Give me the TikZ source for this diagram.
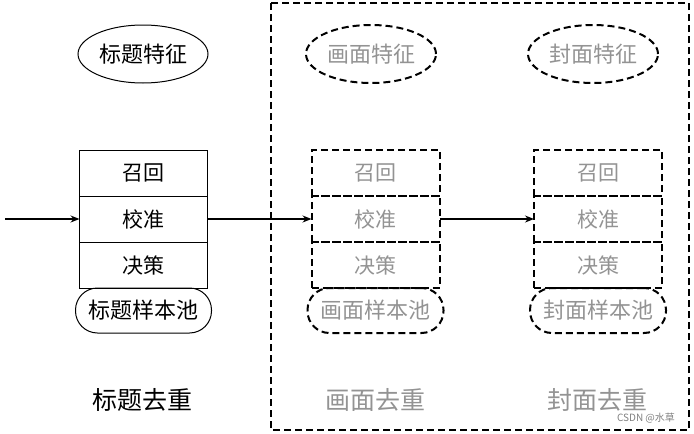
\documentclass[tikz,border=0pt]{standalone}
\usepackage{fontspec}
\setmainfont{Noto Sans CJK SC}
\usetikzlibrary{arrows.meta, positioning, shapes.geometric}
\tikzstyle{arrow} = [line width=1.4pt, -{Stealth[length=9pt,width=7pt]}]

\begin{document}
\begin{tikzpicture}[x=1pt, y=-1pt,
    feat/.style={ellipse, draw=black, line width=1pt, minimum width=130pt, minimum height=58pt, inner sep=0pt, font=\fontsize{22}{24}\selectfont},
    cell/.style={rectangle, draw=black, line width=1pt, minimum width=128pt, minimum height=46pt, inner sep=0pt, outer sep=0pt, font=\fontsize{21}{24}\selectfont},
    pool/.style={rectangle, rounded corners=22pt, draw=black, line width=1pt, minimum width=136pt, minimum height=45pt, inner sep=0pt, outer sep=0pt, font=\fontsize{22}{24}\selectfont},
    ghost/.style={dash pattern=on 7pt off 4pt, line width=2pt, text=gray!85},
    title/.style={font=\fontsize{25}{28}\selectfont},
]
\useasboundingbox (0,0) rectangle (694,434);

% Title dedup
\node[feat] (tfeat) at (143,54) {标题特征};
\node[cell] (trecall) at (143.5,173) {召回};
\node[cell, below=0pt of trecall] (tcalib) {校准};
\node[cell, below=0pt of tcalib] (tdecide) {决策};
\node[pool, below=0pt of tdecide] (tpool) {标题样本池};
\node[title] (tname) at (142,400) {标题去重};

% Image dedup
\node[feat, ghost] (pfeat) at (371,54) {画面特征};
\node[cell, ghost] (precall) at (375.5,173) {召回};
\node[cell, ghost, below=0pt of precall] (pcalib) {校准};
\node[cell, ghost, below=0pt of pcalib] (pdecide) {决策};
\node[pool, ghost, below=0pt of pdecide] (ppool) {画面样本池};
\node[title, text=gray!85] (pname) at (375,400) {画面去重};

% Cover dedup
\node[feat, ghost] (cfeat) at (593,54) {封面特征};
\node[cell, ghost] (crecall) at (598,173) {召回};
\node[cell, ghost, below=0pt of crecall] (ccalib) {校准};
\node[cell, ghost, below=0pt of ccalib] (cdecide) {决策};
\node[pool, ghost, below=0pt of cdecide] (cpool) {封面样本池};
\node[title, text=gray!85] (cname) at (597,400) {封面去重};

% Visual group
\draw[dash pattern=on 7pt off 4pt, line width=2pt] (271,3) rectangle (689,430);

% Flow
\coordinate (input) at (5,219);
\draw[arrow] (input) -- (tcalib.west);
\draw[arrow] (tcalib.east) -- (pcalib.west);
\draw[arrow] (pcalib.east) -- (ccalib.west);

\node[font=\fontsize{10}{12}\selectfont, text=gray] (mark) at (646,418) {CSDN @水草};

\end{tikzpicture}
\end{document}
